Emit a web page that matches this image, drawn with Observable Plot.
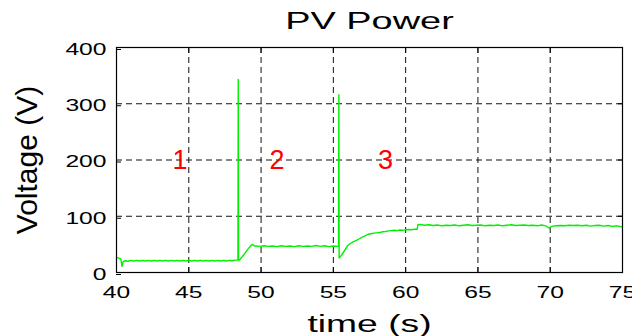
<!DOCTYPE html>
<html><head><meta charset="utf-8">
<script src="https://cdn.jsdelivr.net/npm/d3@7"></script>
<script src="https://cdn.jsdelivr.net/npm/@observablehq/plot@0.6"></script>
<style>body{margin:0;background:#fff;overflow:hidden}</style>
</head><body><div id="chart"></div>
<script>
const title = "PV Power";
const xLabel = "time (s)";
const yLabel = "Voltage (V)";
const xTicks = [40, 45, 50, 55, 60, 65, 70, 75];
const yTicks = [0, 100, 200, 300, 400];
const zoneLabels = ["1", "2", "3"];
const zoneX = [44.4, 51.1, 58.6];
const zoneY = [199, 199, 199];

// [time (s), voltage (V)]
const region1 = [[40.0,27],[40.1,26],[40.2,25],[40.3,24],[40.38,11],[40.45,19],[40.6,21],[40.8,20],[41.0,21.5],[41.2,20.5],[41.4,21.5],[41.6,20.5],[41.8,21.5],[42.0,20.5],[42.2,21.5],[42.4,20.5],[42.6,21.5],[42.8,20.5],[43.0,21.5],[43.2,20.5],[43.4,21.5],[43.6,20.5],[43.8,21.5],[44.0,20.5],[44.2,21.5],[44.4,20.5],[44.6,21.5],[44.8,20.5],[45.0,21.5],[45.2,20.5],[45.4,21.5],[45.6,20.5],[45.8,21.5],[46.0,20.5],[46.2,21.5],[46.4,20.5],[46.6,21.5],[46.8,20.5],[47.0,21.5],[47.2,20.5],[47.4,21.5],[47.6,20.5],[47.8,21.5],[48.0,21],[48.2,22],[48.4,22],[48.42,343],[48.44,22]];
const region2 = [[48.5,22],[48.7,28],[48.9,35],[49.1,42],[49.3,48],[49.4,50],[49.5,48],[49.6,47],[49.9,46.5],[50.2,47.5],[50.5,46.5],[50.8,47],[51.1,46],[51.4,47.5],[51.7,46.5],[52.0,47],[52.3,46],[52.6,47.5],[52.9,46.5],[53.2,47],[53.5,46.5],[53.8,48],[54.1,46.5],[54.4,47.5],[54.7,46],[55.0,47],[55.3,46.5],[55.36,46.5],[55.38,316],[55.40,26]];
const region3 = [[55.42,26],[55.6,32],[55.8,40],[56.0,48],[56.2,52],[56.4,55],[56.6,57],[56.8,60],[57.0,63],[57.2,65],[57.4,68],[57.6,69],[57.8,70],[58.0,70.5],[58.2,71],[58.4,72.5],[58.6,73],[58.8,74],[59.0,74.5],[59.2,75],[59.4,74.5],[59.6,75.5],[59.8,75],[60.0,76],[60.2,76.5],[60.4,76],[60.6,77],[60.8,77],[60.85,85],[61.0,85.5],[61.3,84],[61.6,85],[61.9,83.5],[62.2,84.5],[62.5,83],[62.8,84],[63.1,83.5],[63.4,84.5],[63.7,83],[64.0,84],[64.3,85],[64.6,83.5],[64.9,84],[65.2,84.5],[65.5,83],[65.8,84],[66.1,83.5],[66.4,84.5],[66.7,83],[67.0,84],[67.3,85],[67.6,83.5],[67.9,84],[68.2,84.5],[68.5,83.5],[68.8,84],[69.1,83],[69.4,84.5],[69.7,83],[69.9,79],[70.1,82],[70.4,83],[70.7,83.5],[71.0,83],[71.3,84],[71.6,83.5],[71.9,84],[72.2,83],[72.5,84],[72.8,82.5],[73.1,83.5],[73.4,84],[73.7,82.5],[74.0,83.5],[74.3,82],[74.6,83],[75.0,81]];

const data = [...region1, ...region2, ...region3].map(([t, v]) => ({t, v}));
const zones = zoneLabels.map((label, i) => ({label, x: zoneX[i], y: zoneY[i]}));

const font = "Liberation Sans, Arial, sans-serif";
const chart = Plot.plot({
  width: 632,
  height: 336,
  marginLeft: 116,
  marginRight: 10,
  marginTop: 47,
  marginBottom: 64,
  style: {fontFamily: font, background: "#fff", color: "#000", overflow: "visible"},
  x: {domain: [40, 75], label: null},
  y: {domain: [0, 400], label: null},
  marks: [
    Plot.gridX(xTicks, {stroke: "#111", strokeOpacity: 1, strokeWidth: 1, strokeDasharray: "6,4"}),
    Plot.gridY(yTicks, {stroke: "#111", strokeOpacity: 1, strokeWidth: 1, strokeDasharray: "6,4"}),
    Plot.line(data, {x: "t", y: "v", stroke: "#00f000", strokeWidth: 1.4}),
    Plot.frame({stroke: "#000", strokeWidth: 1.2}),
    Plot.axisX(xTicks, {anchor: "bottom", tickSize: -5, tickPadding: 18, fontSize: 17, label: null}),
    Plot.axisX(xTicks, {anchor: "top", tickSize: -5, text: null, label: null}),
    Plot.axisY(yTicks, {anchor: "left", tickSize: -5, tickPadding: 15, fontSize: 17, dy: 2, label: null}),
    Plot.axisY(yTicks, {anchor: "right", tickSize: -5, text: null, label: null}),
    Plot.text(zones, {x: "x", y: "y", text: "label", fill: "#ff0000", fontSize: 27, lineAnchor: "middle"}),
    Plot.text([title], {frameAnchor: "top", lineAnchor: "bottom", dy: -18.5, fontSize: 24, fill: "#000"}),
    Plot.text([xLabel], {frameAnchor: "bottom", lineAnchor: "bottom", dy: 59, fontSize: 23, fill: "#000"}),
    Plot.text([yLabel], {frameAnchor: "left", textAnchor: "middle", lineAnchor: "bottom", rotate: -90, dx: -80, fontSize: 30, fill: "#000"})
  ]
});
document.getElementById("chart").append(chart);

// the reference's lettering is horizontally stretched
chart.querySelectorAll("text").forEach(el => {
  const txt = el.textContent;
  let s = null;
  if (txt === title) s = 1.58;
  else if (txt === xLabel) s = 1.62;
  else if (/^\d+$/.test(txt) && !zoneLabels.includes(txt)) s = 1.45;
  if (!s) return;
  const b = el.getBBox();
  const anchor = getComputedStyle(el).textAnchor;
  const ax = anchor === "middle" ? b.x + b.width / 2 : anchor === "end" ? b.x + b.width : b.x;
  const prev = el.getAttribute("transform") || "";
  el.setAttribute("transform", `${prev} translate(${ax},0) scale(${s},1) translate(${-ax},0)`);
});
</script>
</body></html>
